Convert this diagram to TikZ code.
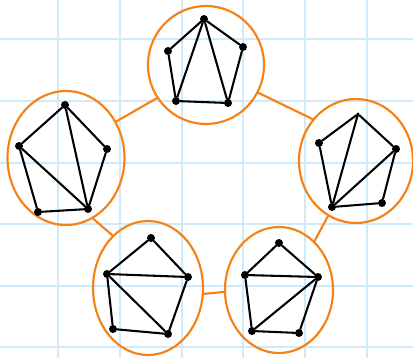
\documentclass[tikz,border=0pt]{standalone}
\usetikzlibrary{shapes.geometric}
\definecolor{gridblue}{RGB}{208,234,250}
\definecolor{penorange}{RGB}{246,130,22}
\begin{document}
\begin{tikzpicture}[x=0.75pt,y=-0.75pt,
  vert/.style={circle,fill=black,inner sep=0pt,minimum size=6pt},
  svert/.style={circle,fill=black,inner sep=0pt,minimum size=2.5pt},
  edge/.style={line width=1.55pt,black,line cap=round,line join=round},
  bubble/.style={ellipse,draw=penorange,line width=1.6pt,inner sep=0pt},
  link/.style={draw=penorange,line width=1.6pt,line cap=round},
  gridline/.style={draw=gridblue,line width=0.8pt}]
\useasboundingbox (0,0) rectangle (413,358);
\fill[white] (0,0) rectangle (413,358);
% grid
\foreach \gx in {58,120,182,243,305,367} \draw[gridline] (\gx,0) -- (\gx,358);
\foreach \gy in {39,101,163,224,286,347} \draw[gridline] (0,\gy) -- (413,\gy);
% bubbles
\node[bubble,minimum width=116*0.75pt,minimum height=118*0.75pt] (T) at (206,65) {};
\node[bubble,minimum width=117*0.75pt,minimum height=134*0.75pt] (L) at (66,158) {};
\node[bubble,minimum width=114*0.75pt,minimum height=124*0.75pt] (R) at (356,161) {};
\node[bubble,minimum width=110*0.75pt,minimum height=134*0.75pt] (BL) at (148,288) {};
\node[bubble,minimum width=108*0.75pt,minimum height=126*0.75pt] (BR) at (279,290) {};
% links
\draw[link] (T.214) -- (L.36);
\draw[link] (T.-28) -- (R.136);
\draw[link] (L.-66) -- (BL.124);
\draw[link] (BL.-6) -- (BR.182);
\draw[link] (R.-117) -- (BR.54);
% top graph
\node[vert] (t1) at (204,19) {};
\node[vert] (t2) at (168,51) {};
\node[vert] (t3) at (243,47) {};
\node[vert] (t4) at (176,101) {};
\node[vert] (t5) at (228,103) {};
\draw[edge] (t1)--(t2) (t1)--(t3) (t2)--(t4) (t3)--(t5) (t4)--(t5) (t1)--(t4) (t1)--(t5);
% left graph
\node[vert] (l1) at (65,105) {};
\node[vert] (l2) at (19,146) {};
\node[vert] (l3) at (107,149) {};
\node[vert] (l4) at (38,212) {};
\node[vert] (l5) at (88,209) {};
\draw[edge] (l1)--(l2) (l1)--(l3) (l2)--(l4) (l3)--(l5) (l4)--(l5) (l1)--(l5) (l2)--(l5);
% right graph
\node[svert] (r1) at (358,114) {};
\node[vert] (r2) at (319,143) {};
\node[vert] (r3) at (396,149) {};
\node[vert] (r4) at (332,207) {};
\node[vert] (r5) at (382,203) {};
\draw[edge] (r1)--(r2) (r1)--(r3) (r2)--(r4) (r3)--(r5) (r4)--(r5) (r4)--(r1) (r4)--(r3);
% bottom-left graph
\node[vert] (a1) at (151,238) {};
\node[vert] (a2) at (107,274) {};
\node[vert] (a3) at (188,277) {};
\node[vert] (a4) at (113,329) {};
\node[vert] (a5) at (168,334) {};
\draw[edge] (a1)--(a2) (a1)--(a3) (a2)--(a4) (a3)--(a5) (a4)--(a5) (a2)--(a3) (a2)--(a5);
% bottom-right graph
\node[vert] (b1) at (279,243) {};
\node[vert] (b2) at (245,275) {};
\node[vert] (b3) at (318,277) {};
\node[vert] (b4) at (252,331) {};
\node[vert] (b5) at (299,333) {};
\draw[edge] (b1)--(b2) (b1)--(b3) (b2)--(b4) (b3)--(b5) (b4)--(b5) (b2)--(b3) (b4)--(b3);
\end{tikzpicture}
\end{document}
